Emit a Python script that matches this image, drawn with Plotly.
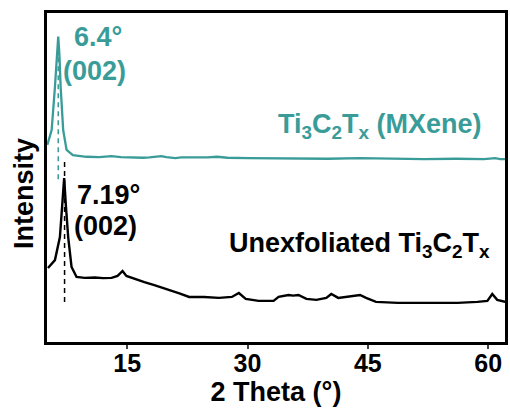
import plotly.graph_objects as go

# ---- data ----
mx_x = [5.04, 5.58, 5.99, 6.24, 6.40, 6.55, 6.70, 7.02, 7.44, 8.22, 9.92, 11.5, 13.05, 14.2,
        15.28, 17.0, 17.76, 18.6, 19.25, 19.9, 20.24, 21.0, 21.73, 23.5, 25.0, 26.19, 27.5,
        30.16, 33.0, 36.35, 40.0, 44.0, 48.74, 52.0, 56.0, 59.5, 60.88, 61.5, 62.12]
mx_y = [59.9, 64.4, 77.5, 87.2, 92.8, 87.2, 77.5, 64.4, 58.4, 56.8, 56.3, 56.2, 56.5, 56.2,
        56.1, 56.0, 56.1, 56.3, 56.5, 56.2, 56.1, 55.9, 56.1, 56.0, 56.1, 56.3, 56.0,
        55.9, 55.8, 55.8, 55.7, 55.9, 55.7, 55.6, 55.7, 55.6, 55.9, 55.6, 55.6]

ux_x = [5.12, 5.99, 6.61, 6.86, 7.14, 7.35, 7.64, 8.06, 8.68, 9.7, 10.95, 12.0, 13.05, 13.8,
        14.42, 14.9, 15.53, 16.3, 17.14, 18.38, 19.3, 20.24, 21.5, 22.72, 24.58, 26.44, 28.05,
        28.92, 29.78, 31.39, 33.25, 33.87, 35.11, 35.7, 36.35, 37.34, 38.58, 39.82, 40.44,
        41.31, 42.79, 44.03, 44.78, 46.02, 48.74, 52.46, 56.18, 58.66, 59.9, 60.51, 61.13, 62.12]
ux_y = [22.5, 24.9, 31.9, 40.1, 49.8, 41.6, 31.9, 22.8, 19.8, 19.5, 19.6, 19.4, 19.5, 20.1,
        21.6, 20.1, 19.5, 18.9, 18.2, 17.3, 16.6, 15.8, 14.8, 13.7, 13.7, 13.4, 13.7,
        14.9, 13.1, 12.5, 12.5, 13.7, 14.3, 14.1, 14.3, 13.1, 12.8, 13.4, 14.6,
        13.4, 14.0, 14.3, 13.4, 12.2, 11.9, 11.9, 11.9, 12.2, 12.5, 14.6, 12.8, 12.2]

peak_mx = 6.4
peak_ux = 7.19
tick_vals = [15, 30, 45, 60]

TEAL = "#3a9c98"
FONT = "Liberation Sans, Arial, sans-serif"

fig = go.Figure()
fig.add_trace(go.Scatter(x=mx_x, y=mx_y, mode="lines", line=dict(color=TEAL, width=2.3), showlegend=False))
fig.add_trace(go.Scatter(x=ux_x, y=ux_y, mode="lines", line=dict(color="black", width=2.4), showlegend=False))

# dashed peak markers
fig.add_trace(go.Scatter(x=[peak_mx, peak_mx], y=[92, 49.5], mode="lines",
                         line=dict(color=TEAL, width=1.5, dash="5px,4px"), showlegend=False))
fig.add_trace(go.Scatter(x=[peak_ux, peak_ux], y=[54.7, 11.9], mode="lines",
                         line=dict(color="black", width=1.5, dash="5px,4px"), showlegend=False))

ann = [
    dict(x=11.4, y=92.6, text="<b>6.4°</b>", color=TEAL, xanchor="center"),
    dict(x=10.95, y=82.4, text="<b>(002)</b>", color=TEAL, xanchor="center"),
    dict(x=12.7, y=44.7, text="<b>7.19°</b>", color="black", xanchor="center"),
    dict(x=12.3, y=35.3, text="<b>(002)</b>", color="black", xanchor="center"),
    dict(x=59.5, y=65.6, text="<b>Ti<sub>3</sub>C<sub>2</sub>T<sub>x</sub> (MXene)</b>", color=TEAL, xanchor="right"),
    dict(x=60.5, y=29.5, text="<b>Unexfoliated Ti<sub>3</sub>C<sub>2</sub>T<sub>x</sub></b>", color="black", xanchor="right"),
]
for a in ann:
    fig.add_annotation(x=a["x"], y=a["y"], text=a["text"], showarrow=False, xanchor=a["xanchor"],
                       yanchor="middle", font=dict(family=FONT, size=27, color=a["color"]))

# y-axis title as rotated annotation
fig.add_annotation(xref="paper", yref="paper", x=-0.05, y=0.45, text="<b>Intensity</b>",
                   textangle=-90, showarrow=False, xanchor="center", yanchor="middle",
                   font=dict(family=FONT, size=27, color="black"))

fig.update_layout(
    width=510, height=408, margin=dict(l=47, r=2, t=13, b=66),
    paper_bgcolor="white", plot_bgcolor="white",
    font=dict(family=FONT, color="black"),
)
fig.update_xaxes(range=[5, 62.1], tickvals=tick_vals, ticktext=[f"<b>{v}</b>" for v in tick_vals],
                 tickfont=dict(size=25, family=FONT), ticks="outside", ticklen=4, tickwidth=2,
                 ticklabelstandoff=-7,
                 showline=True, linecolor="black", linewidth=2.5, mirror=True, showgrid=False, zeroline=False,
                 title=dict(text="<b>2 Theta (°)</b>", font=dict(size=27, family=FONT), standoff=5))
fig.update_yaxes(range=[0, 100], showticklabels=False, ticks="",
                 showline=True, linecolor="black", linewidth=2.5, mirror=True, showgrid=False, zeroline=False)

fig.write_html("out.html")
